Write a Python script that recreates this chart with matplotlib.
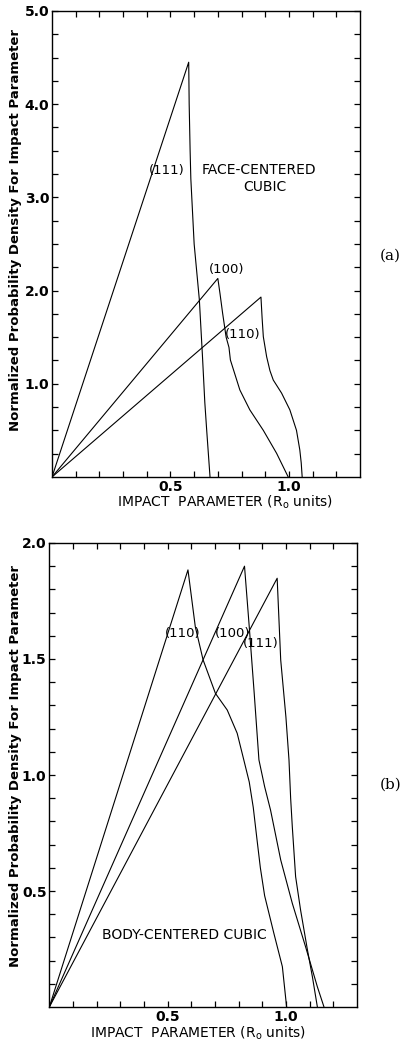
import matplotlib
matplotlib.use('Agg')
import matplotlib.pyplot as plt

# ---- data ----
# (a) face-centered cubic: rising lines from origin to peak, then falling tails
fcc_111_x = [0.0, 0.577, 0.579, 0.583, 0.586, 0.600, 0.622, 0.635, 0.645, 0.653, 0.667]
fcc_111_y = [0.0, 4.45, 4.0, 3.5, 3.2, 2.5, 1.9, 1.3, 0.8, 0.5, 0.0]
fcc_100_x = [0.0, 0.700, 0.709, 0.720, 0.735, 0.747, 0.753, 0.793, 0.835, 0.892, 0.948, 0.997]
fcc_100_y = [0.0, 2.13, 1.97, 1.76, 1.5, 1.39, 1.255, 0.933, 0.72, 0.50, 0.254, 0.0]
fcc_110_x = [0.0, 0.882, 0.887, 0.892, 0.906, 0.920, 0.934, 0.969, 1.004, 1.032, 1.046, 1.052, 1.056]
fcc_110_y = [0.0, 1.93, 1.70, 1.505, 1.29, 1.14, 1.04, 0.90, 0.72, 0.50, 0.29, 0.15, 0.0]

# (b) body-centered cubic
bcc_110_x = [0.0, 0.586, 0.617, 0.650, 0.702, 0.752, 0.794, 0.822, 0.845, 0.862, 0.878, 0.892, 0.910, 0.949, 0.985, 1.003]
bcc_110_y = [0.0, 1.884, 1.639, 1.496, 1.352, 1.28, 1.18, 1.065, 0.97, 0.86, 0.72, 0.60, 0.48, 0.318, 0.174, 0.0]
bcc_100_x = [0.0, 0.825, 0.845, 0.866, 0.886, 0.910, 0.935, 0.978, 1.027, 1.083, 1.133, 1.161]
bcc_100_y = [0.0, 1.90, 1.639, 1.352, 1.065, 0.95, 0.849, 0.634, 0.447, 0.26, 0.087, 0.0]
bcc_111_x = [0.0, 0.963, 0.978, 1.000, 1.013, 1.020, 1.027, 1.041, 1.062, 1.091, 1.112, 1.133]
bcc_111_y = [0.0, 1.848, 1.496, 1.25, 1.065, 0.90, 0.777, 0.562, 0.418, 0.246, 0.13, 0.0]

ylabel = 'Normalized Probability Density For Impact Parameter'
xlabel = 'IMPACT  PARAMETER (R$_\\mathregular{o}$ units)'

plt.rcParams['font.family'] = ['DejaVu Sans']

fig = plt.figure(figsize=(4.01, 10.43), dpi=100)
ax1 = fig.add_axes([0.1297, 0.5427, 0.768, 0.4468])
ax2 = fig.add_axes([0.123, 0.0345, 0.767, 0.4449])


def style_axis(ax, ymax, ystep, ylabels):
    ax.set_xlim(0, 1.3)
    ax.set_ylim(0, ymax)
    ax.set_xticks([0.5, 1.0])
    ax.set_xticklabels(['0.5', '1.0'])
    ax.set_xticks([i / 10 for i in range(1, 13)], minor=True)
    ax.set_yticks(ylabels)
    ax.set_yticklabels(['%.1f' % v for v in ylabels])
    n = int(round(ymax / ystep))
    ax.set_yticks([i * ystep for i in range(1, n)], minor=True)
    ax.tick_params(which='both', direction='in', length=4, width=0.9,
                   top=True, right=True, labelsize=10, pad=2)
    for lab in ax.get_xticklabels() + ax.get_yticklabels():
        lab.set_fontweight('bold')
    for s in ax.spines.values():
        s.set_linewidth(1.0)


lw = 0.8
ax1.plot(fcc_111_x, fcc_111_y, color='black', lw=lw)
ax1.plot(fcc_100_x, fcc_100_y, color='black', lw=lw)
ax1.plot(fcc_110_x, fcc_110_y, color='black', lw=lw)
style_axis(ax1, 5.0, 0.25, [1.0, 2.0, 3.0, 4.0, 5.0])
ax1.text(0.485, 3.29, '(111)', fontsize=9.5, ha='center', va='center')
ax1.text(0.873, 3.29, 'FACE-CENTERED', fontsize=10, ha='center', va='center')
ax1.text(0.90, 3.11, 'CUBIC', fontsize=10, ha='center', va='center')
ax1.text(0.738, 2.23, '(100)', fontsize=9.5, ha='center', va='center')
ax1.text(0.805, 1.53, '(110)', fontsize=9.5, ha='center', va='center')

ax2.plot(bcc_110_x, bcc_110_y, color='black', lw=lw)
ax2.plot(bcc_100_x, bcc_100_y, color='black', lw=lw)
ax2.plot(bcc_111_x, bcc_111_y, color='black', lw=lw)
style_axis(ax2, 2.0, 0.1, [0.5, 1.0, 1.5, 2.0])
ax2.text(0.565, 1.61, '(110)', fontsize=9.5, ha='center', va='center')
ax2.text(0.773, 1.608, '(100)', fontsize=9.5, ha='center', va='center')
ax2.text(0.893, 1.565, '(111)', fontsize=9.5, ha='center', va='center')
ax2.text(0.571, 0.31, 'BODY-CENTERED CUBIC', fontsize=10, ha='center', va='center')

# axis titles placed in figure coordinates
fig.text(0.039, 0.7795, ylabel, rotation=90, ha='center', va='center',
         fontsize=9.5, fontweight='bold')
fig.text(0.039, 0.2656, ylabel, rotation=90, ha='center', va='center',
         fontsize=9.5, fontweight='bold')
fig.text(0.561, 0.5187, xlabel, ha='center', va='center', fontsize=10)
fig.text(0.494, 0.0096, xlabel, ha='center', va='center', fontsize=10)

fig.text(0.973, 0.7546, '(a)', family='DejaVu Serif', fontsize=11,
         ha='center', va='center')
fig.text(0.973, 0.2474, '(b)', family='DejaVu Serif', fontsize=11,
         ha='center', va='center')

fig.savefig('out.png', dpi=100)
